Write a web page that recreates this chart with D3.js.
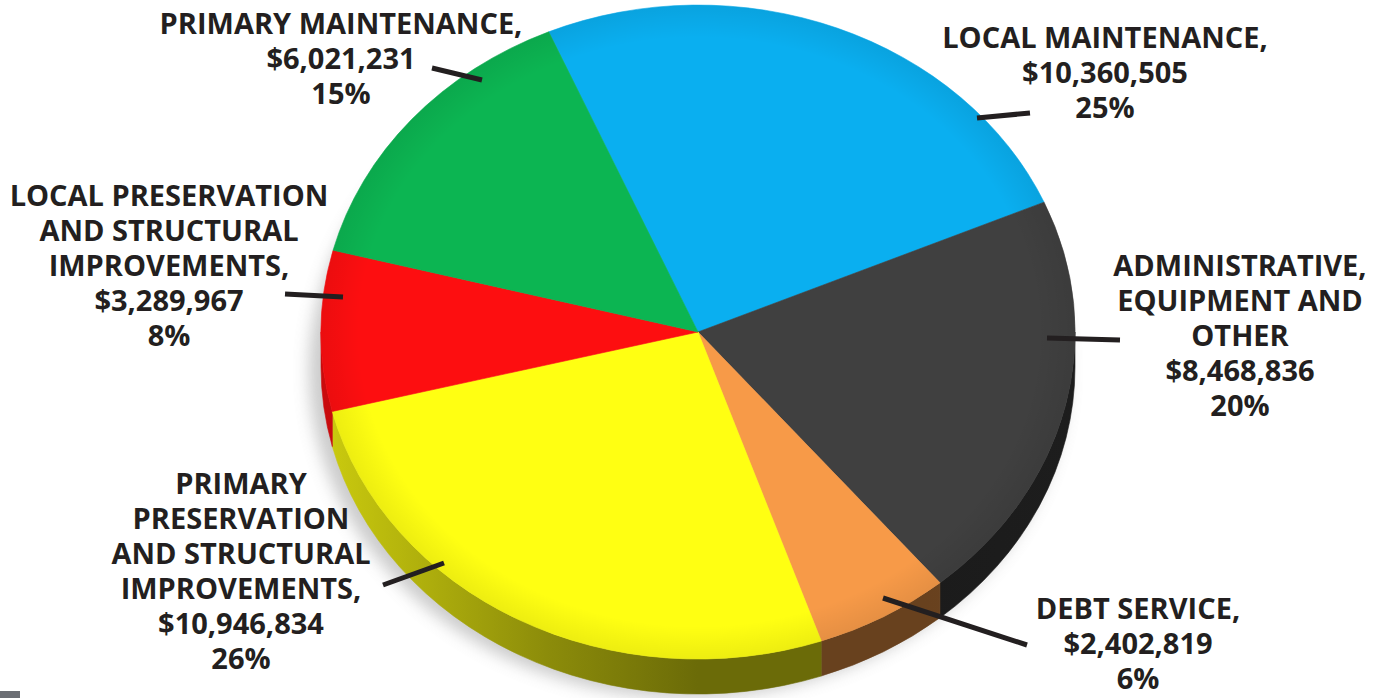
<!DOCTYPE html>
<html>
<head>
<meta charset="utf-8">
<script src="https://cdn.jsdelivr.net/npm/d3@7"></script>
<style>
  html, body { margin: 0; padding: 0; background: #ffffff; }
  svg { display: block; }
</style>
</head>
<body>
<svg id="chart" width="1379" height="698"></svg>
<script>
// ---- data ----
const categories = [
  "LOCAL MAINTENANCE",
  "ADMINISTRATIVE, EQUIPMENT AND OTHER",
  "DEBT SERVICE",
  "PRIMARY PRESERVATION AND STRUCTURAL IMPROVEMENTS",
  "LOCAL PRESERVATION AND STRUCTURAL IMPROVEMENTS",
  "PRIMARY MAINTENANCE"
];
const values = [10360505, 8468836, 2402819, 10946834, 3289967, 6021231];
const percentLabels = ["25%", "20%", "6%", "26%", "8%", "15%"];
const labelLines = [
  ["LOCAL MAINTENANCE,", "$10,360,505", "25%"],
  ["ADMINISTRATIVE,", "EQUIPMENT AND", "OTHER", "$8,468,836", "20%"],
  ["DEBT SERVICE,", "$2,402,819", "6%"],
  ["PRIMARY", "PRESERVATION", "AND STRUCTURAL", "IMPROVEMENTS,", "$10,946,834", "26%"],
  ["LOCAL PRESERVATION", "AND STRUCTURAL", "IMPROVEMENTS,", "$3,289,967", "8%"],
  ["PRIMARY MAINTENANCE,", "$6,021,231", "15%"]
];
const colors = ["#0aaff0", "#404040", "#f79a48", "#ffff12", "#fd0e10", "#0cb552"];

// ---- layout ----
const W = 1379, H = 698;
const cx = 698, cy = 332, rx = 377, ry = 327, depth = 35;
const startDeg = -23.3;
const d = depth / ry; // depth in unit space
const fontSize = 29, lineH = 35;

// label anchor (center x, first baseline) and leader line endpoints
const labelPos = [
  {x: 1105, y: 48,  line: [[977, 118], [1030, 113]]},
  {x: 1240, y: 276, line: [[1047, 338], [1120, 340]]},
  {x: 1138, y: 619, line: [[883, 598], [1027, 645]]},
  {x: 241,  y: 494, line: [[383, 585], [444, 563]]},
  {x: 169,  y: 206, line: [[285, 294], [343, 297]]},
  {x: 341,  y: 34,  line: [[432, 68], [482, 80]]}
];

const svg = d3.select("#chart");
const defs = svg.append("defs");

// shadow filter (pixel space)
const f = defs.append("filter").attr("id", "shadow")
  .attr("filterUnits", "userSpaceOnUse")
  .attr("x", 0).attr("y", 0).attr("width", W).attr("height", H);
f.append("feGaussianBlur").attr("stdDeviation", 8);

// side gradients
colors.forEach((c, i) => {
  const base = d3.rgb(c);
  const g = defs.append("linearGradient").attr("id", "side" + i)
    .attr("gradientUnits", "userSpaceOnUse")
    .attr("x1", -1).attr("y1", 0).attr("x2", 1).attr("y2", 0);
  const stops = [[0, 0.8], [0.3, 0.55], [0.5, 0.42], [0.8, 0.42], [1, 0.45]];
  stops.forEach(([o, k]) => {
    g.append("stop").attr("offset", o)
      .attr("stop-color", d3.rgb(base.r * k, base.g * k, base.b * k).formatHex());
  });
});

// top-face rim shading
const rg = defs.append("radialGradient").attr("id", "rim")
  .attr("gradientUnits", "userSpaceOnUse").attr("cx", 0).attr("cy", 0).attr("r", 1);
rg.append("stop").attr("offset", 0.9).attr("stop-color", "#000").attr("stop-opacity", 0);
rg.append("stop").attr("offset", 1).attr("stop-color", "#000").attr("stop-opacity", 0.07);

const pie = d3.pie().sort(null).value(v => v)
  .startAngle(startDeg * Math.PI / 180)
  .endAngle(startDeg * Math.PI / 180 + 2 * Math.PI);
const arcs = pie(values);

// shadow in pixel space
svg.append("ellipse").attr("cx", cx - 10).attr("cy", cy + depth + 4).attr("rx", rx + 2).attr("ry", ry)
  .attr("fill", "#8c8c8c").attr("opacity", 0.45).attr("filter", "url(#shadow)");

const g = svg.append("g").attr("transform", `translate(${cx},${cy}) scale(${rx},${ry})`);

// sides
const lo = Math.PI / 2, hi = 3 * Math.PI / 2;
arcs.forEach((a, i) => {
  const a0 = Math.max(a.startAngle, lo), a1 = Math.min(a.endAngle, hi);
  if (a1 <= a0) return;
  const t0 = a0 - Math.PI / 2, t1 = a1 - Math.PI / 2;
  const p = d3.path();
  p.moveTo(Math.cos(t0), Math.sin(t0));
  p.arc(0, 0, 1, t0, t1, false);
  p.lineTo(Math.cos(t1), Math.sin(t1) + d);
  p.arc(0, d, 1, t1, t0, true);
  p.closePath();
  g.append("path").attr("d", p.toString())
    .attr("fill", `url(#side${i})`)
    .attr("stroke", `url(#side${i})`).attr("stroke-width", 0.6)
    .attr("vector-effect", "non-scaling-stroke");
});

// top face
const arcGen = d3.arc().innerRadius(0).outerRadius(1);
g.selectAll("path.slice").data(arcs).join("path")
  .attr("class", "slice")
  .attr("d", arcGen)
  .attr("fill", (a, i) => colors[i])
  .attr("stroke", (a, i) => colors[i])
  .attr("stroke-width", 0.6)
  .attr("vector-effect", "non-scaling-stroke");

g.append("ellipse").attr("cx", 0).attr("cy", 0).attr("rx", 1).attr("ry", 1)
  .attr("fill", "url(#rim)");

// leader lines
svg.append("g").selectAll("line").data(labelPos).join("line")
  .attr("x1", p => p.line[0][0]).attr("y1", p => p.line[0][1])
  .attr("x2", p => p.line[1][0]).attr("y2", p => p.line[1][1])
  .attr("stroke", "#231f20").attr("stroke-width", 5);

// labels
const lg = svg.append("g")
  .attr("font-family", "'Open Sans', 'DejaVu Sans', sans-serif")
  .attr("font-weight", 700)
  .attr("font-size", fontSize)
  .attr("fill", "#231f20")
  .attr("text-anchor", "middle");
labelLines.forEach((lines, i) => {
  const t = lg.append("text").attr("x", labelPos[i].x).attr("y", labelPos[i].y);
  lines.forEach((s, j) => {
    t.append("tspan").attr("x", labelPos[i].x).attr("y", labelPos[i].y + j * lineH).text(s);
  });
});

// small grey marker bottom-left
svg.append("rect").attr("x", 0).attr("y", 691).attr("width", 20).attr("height", 7).attr("fill", "#6b6e74");
</script>
</body>
</html>
